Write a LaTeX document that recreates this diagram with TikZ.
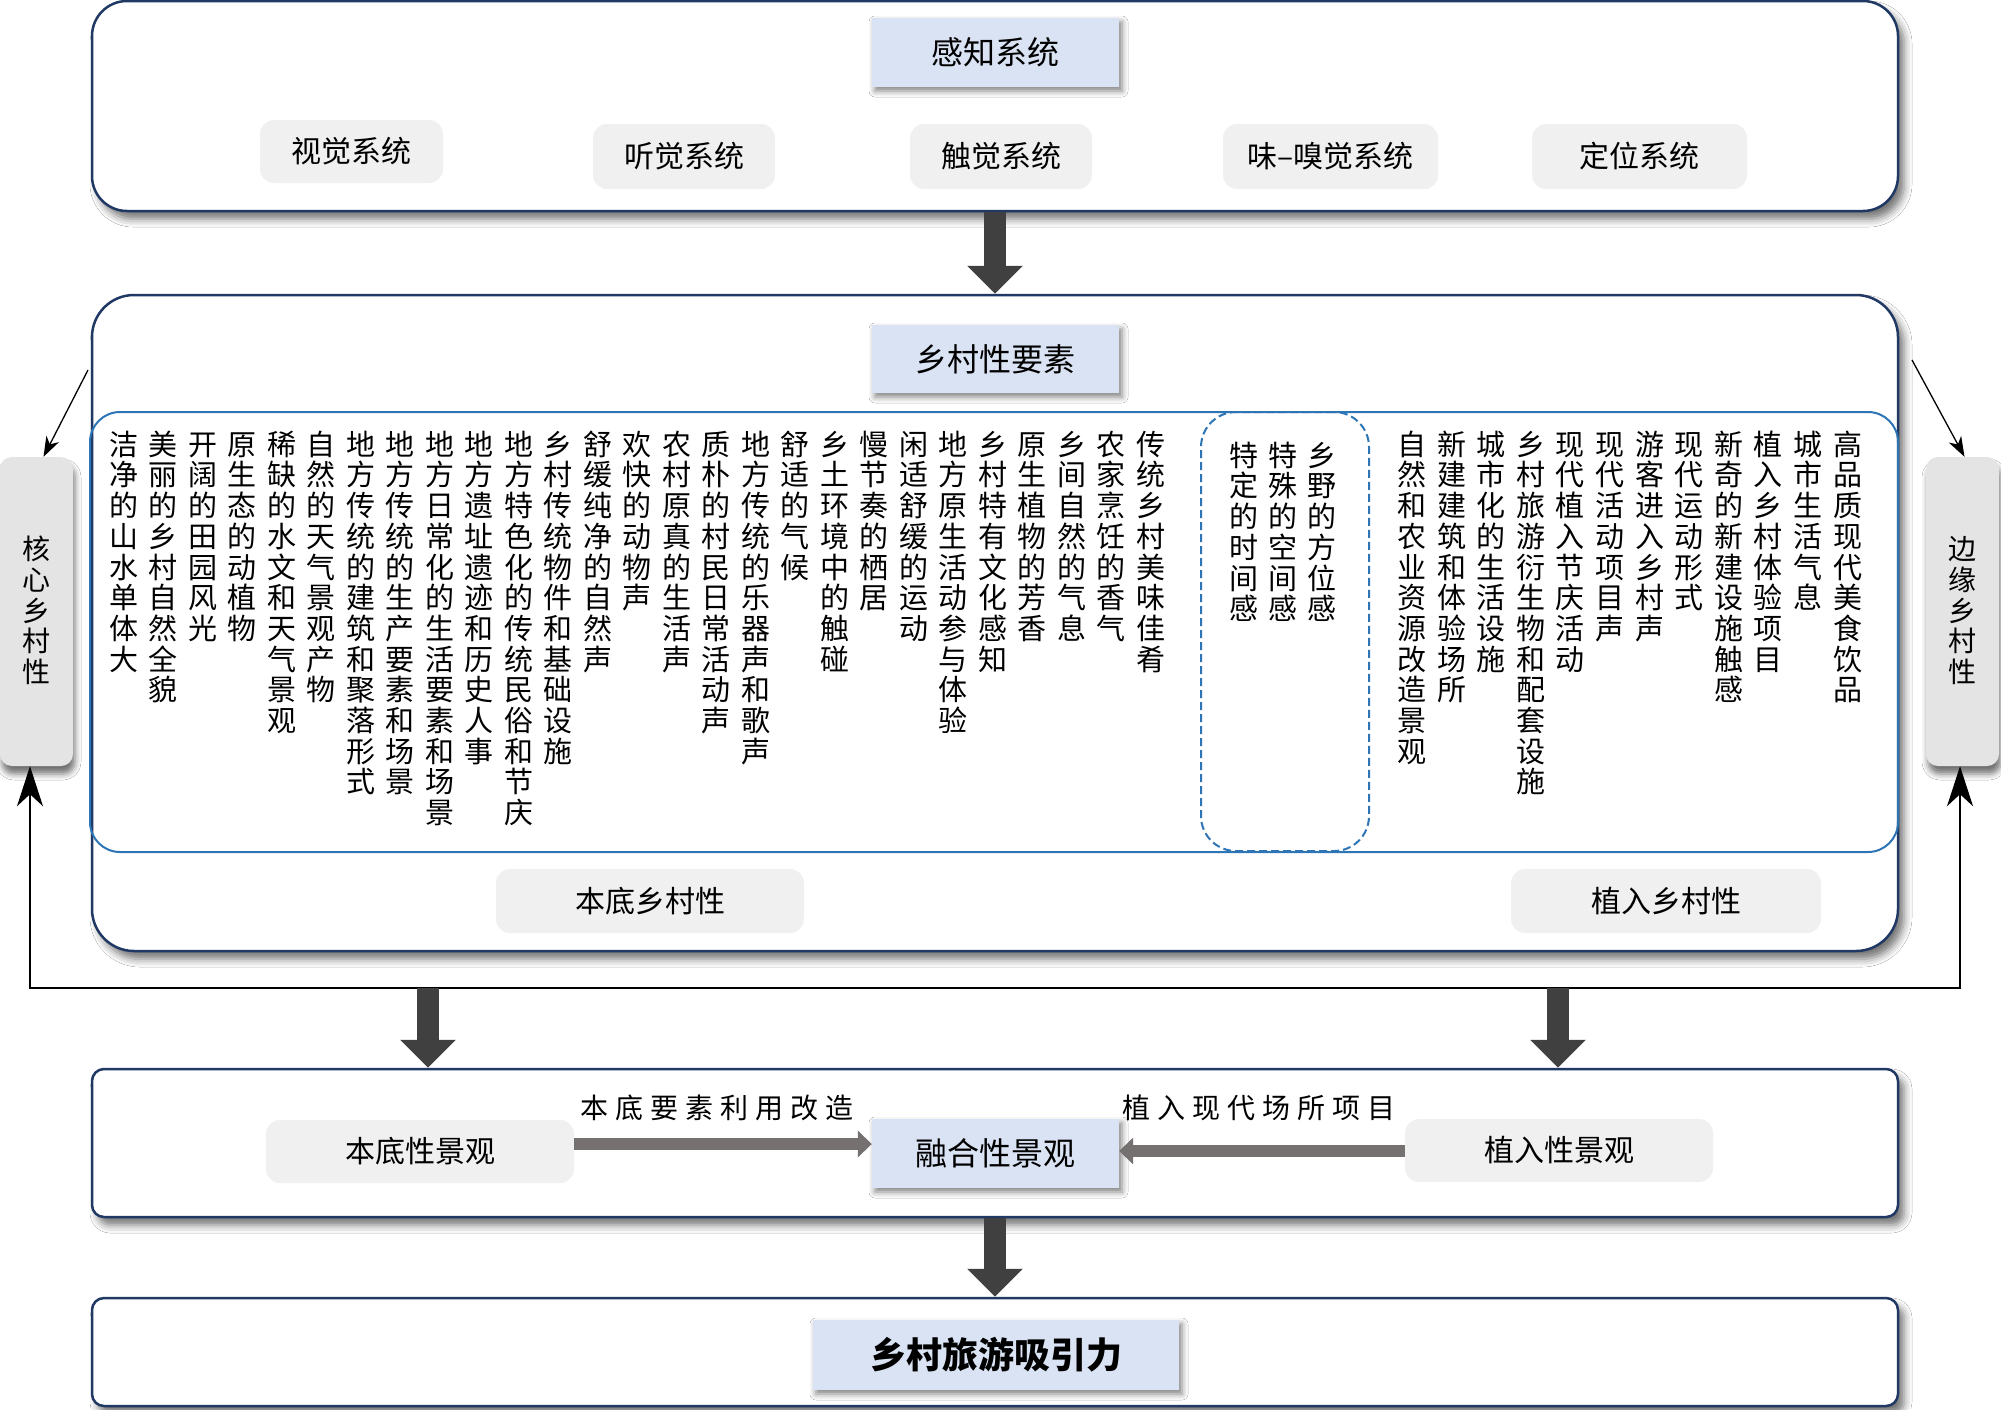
\documentclass[tikz,border=0pt]{standalone}
\usepackage{fontspec}
\setmainfont{Noto Sans CJK SC}
\usetikzlibrary{arrows.meta,shadows.blur}

\definecolor{navy}{HTML}{1F3864}
\definecolor{bblue}{HTML}{2E75B6}
\definecolor{lblue}{HTML}{DAE3F3}
\definecolor{lgray}{HTML}{F0F0F0}
\definecolor{mgray}{HTML}{E4E4E4}
\definecolor{agray}{HTML}{767171}
\definecolor{dgray}{HTML}{404040}

\newcommand\vw{30pt}
\newcommand\vh{25pt}
\newcommand\vd{5.7pt}
\def\vstackB#1{\ifx\relax#1\else\hbox to \vw{\hss\vrule height\vh depth\vd width0pt #1\hss}\expandafter\vstackB\fi}
\newcommand\vstack[1]{\vbox{\offinterlineskip\vstackB#1\relax}}
\def\spcB#1{\ifx\relax#1\else\makebox[35pt]{#1}\expandafter\spcB\fi}
\newcommand\spc[1]{\spcB#1\relax}

\tikzset{
  bigbox/.style={draw=navy, line width=2.5pt, fill=white,
    blur shadow={shadow xshift=6pt, shadow yshift=-8pt, shadow blur radius=8pt, shadow opacity=55}},
  titlebox/.style={fill=lblue, inner sep=0pt,
    blur shadow={shadow xshift=3pt, shadow yshift=-4pt, shadow blur radius=6pt, shadow opacity=50},
    font=\fontsize{32pt}{36pt}\selectfont},
  subbox/.style={fill=lgray, rounded corners=14pt, inner sep=0pt, font=\fontsize{30pt}{34pt}\selectfont},
  sidebox/.style={fill=mgray, rounded corners=12pt, inner sep=0pt,
    blur shadow={shadow xshift=2pt, shadow yshift=-8pt, shadow blur radius=6pt, shadow opacity=55},
    font=\fontsize{28pt}{30.7pt}\selectfont},
  vcol/.style={anchor=north, inner sep=0pt, font=\fontsize{29pt}{30.7pt}\selectfont},
  bigarrow/.style={draw=dgray, line width=22pt, -{Triangle[length=28pt,width=54pt]}},
  grayarrow/.style={draw=agray, line width=12pt, -{Triangle[length=14pt,width=26pt]}},
  thinarrow/.style={draw=black, line width=1.3pt, -{Stealth[length=20pt,width=14pt,inset=6pt]}},
  lbl/.style={inner sep=0pt, font=\fontsize{28pt}{30pt}\selectfont},
}

\begin{document}
\begin{tikzpicture}[x=1pt,y=-1pt]
\useasboundingbox (0,0) rectangle (2001,1409);
\fill[white] (0,0) rectangle (2001,1409);

% ---------- perception system ----------
\node[bigbox, rounded corners=35pt, minimum width=1806pt, minimum height=210pt] (top) at (995,106) {};
\node[titlebox, minimum width=247pt, minimum height=69pt] (gz) at (995.5,52.5) {感知系统};
\node[subbox, minimum width=183pt, minimum height=63pt] (sj) at (351.5,151.5) {视觉系统};
\node[subbox, minimum width=182pt, minimum height=65pt] (tj) at (684,156.5) {听觉系统};
\node[subbox, minimum width=182pt, minimum height=65pt] (cj) at (1001,156.5) {触觉系统};
\node[subbox, minimum width=215pt, minimum height=65pt] (wx) at (1330.5,156.5) {味–嗅觉系统};
\node[subbox, minimum width=215pt, minimum height=65pt] (dw) at (1639.5,156.5) {定位系统};

% ---------- rurality elements ----------
\node[bigbox, rounded corners=42pt, minimum width=1806pt, minimum height=656pt] (mid) at (995,623) {};
\node[titlebox, minimum width=247pt, minimum height=68pt] (ys) at (995.5,359) {乡村性要素};
\node[draw=bblue, line width=2pt, rounded corners=30pt, minimum width=1808pt, minimum height=440pt] (elem) at (994,632) {};
\node[draw=bblue, dash pattern=on 8pt off 4pt, line width=2pt, rounded corners=35pt, minimum width=168pt, minimum height=439pt] (dsh) at (1285,631.5) {};

\foreach \t [count=\i] in {洁净的山水单体大,美丽的乡村自然全貌,开阔的田园风光,原生态的动植物,稀缺的水文和天气景观,自然的天气景观产物,地方传统的建筑和聚落形式,地方传统的生产要素和场景,地方日常化的生活要素和场景,地方遗址遗迹和历史人事,地方特色化的传统民俗和节庆,乡村传统物件和基础设施,舒缓纯净的自然声,欢快的动物声,农村原真的生活声,质朴的村民日常活动声,地方传统的乐器声和歌声,舒适的气候,乡土环境中的触碰,慢节奏的栖居,闲适舒缓的运动,地方原生活动参与体验,乡村特有文化感知,原生植物的芳香,乡间自然的气息,农家烹饪的香气,传统乡村美味佳肴}
  \node[vcol] (L\i) at ({123.5+(\i-1)*39.5},430) {\expandafter\vstack\expandafter{\t}};

\foreach \t [count=\i from 0] in {自然和农业资源改造景观,新建建筑和体验场所,城市化的生活设施,乡村旅游衍生物和配套设施,现代植入节庆活动,现代活动项目声,游客进入乡村声,现代运动形式,新奇的新建设施触感,植入乡村体验项目,城市生活气息,高品质现代美食饮品}
  \node[vcol] (R\i) at ({1412+\i*39.6},430) {\expandafter\vstack\expandafter{\t}};

\foreach \t/\x [count=\i] in {特定的时间感/1244,特殊的空间感/1283,乡野的方位感/1322}
  \node[vcol] (D\i) at (\x,441) {\expandafter\vstack\expandafter{\t}};

\node[subbox, minimum width=308pt, minimum height=64pt] (bd) at (650,901) {本底乡村性};
\node[subbox, minimum width=310pt, minimum height=64pt] (zr) at (1666,901) {植入乡村性};

% ---------- side boxes ----------
\node[sidebox, minimum width=73pt, minimum height=309pt] (hx) at (36.5,611.5) {\vstack{核心乡村性}};
\node[sidebox, minimum width=73pt, minimum height=309pt] (by) at (1962.5,611.5) {\vstack{边缘乡村性}};

\coordinate (lc) at (30,988);
\coordinate (rc) at (1960,988);
\draw[line width=1.5pt, {Stealth[length=40pt,width=26pt,inset=12pt]}-{Stealth[length=40pt,width=26pt,inset=12pt]}]
  (hx.south -| lc) -- (lc) -- (rc) -- (by.south -| rc);

\coordinate (ls) at (88,370);
\coordinate (rs) at (1912,360);
\draw[thinarrow] (ls) -- ([xshift=7pt]hx.north);
\draw[thinarrow] (rs) -- ([xshift=2pt]by.north);

% ---------- landscape ----------
\node[bigbox, rounded corners=12pt, minimum width=1806pt, minimum height=148pt] (fu) at (995,1143) {};
\node[subbox, minimum width=308pt, minimum height=63pt] (bjg) at (420,1151.5) {本底性景观};
\node[titlebox, minimum width=247pt, minimum height=69pt] (rh) at (995.5,1153.5) {融合性景观};
\node[subbox, minimum width=308pt, minimum height=63pt] (zjg) at (1559,1150.5) {植入性景观};

\coordinate (ya) at (0,1144);
\coordinate (yb) at (0,1151);
\draw[grayarrow] (bjg.east |- ya) -- (rh.west |- ya);
\draw[grayarrow] (zjg.west |- yb) -- (rh.east |- yb);
\node[lbl] (l1) at (717,1108) {\spc{本底要素利用改造}};
\node[lbl] (l2) at (1259,1108) {\spc{植入现代场所项目}};

% ---------- attraction ----------
\node[bigbox, rounded corners=12pt, minimum width=1806pt, minimum height=108pt] (goal) at (995,1352) {};
\node[titlebox, minimum width=366pt, minimum height=70pt, font=\fontsize{36pt}{40pt}\selectfont\bfseries] (xl) at (996,1355) {乡村旅游吸引力};

% ---------- big arrows ----------
\draw[bigarrow] (top.south) -- (mid.north);
\coordinate (la) at (428,988);
\coordinate (ra) at (1558,988);
\draw[bigarrow] (la) -- (la |- fu.north);
\draw[bigarrow] (ra) -- (ra |- fu.north);
\draw[bigarrow] (fu.south) -- (goal.north);
\end{tikzpicture}
\end{document}
